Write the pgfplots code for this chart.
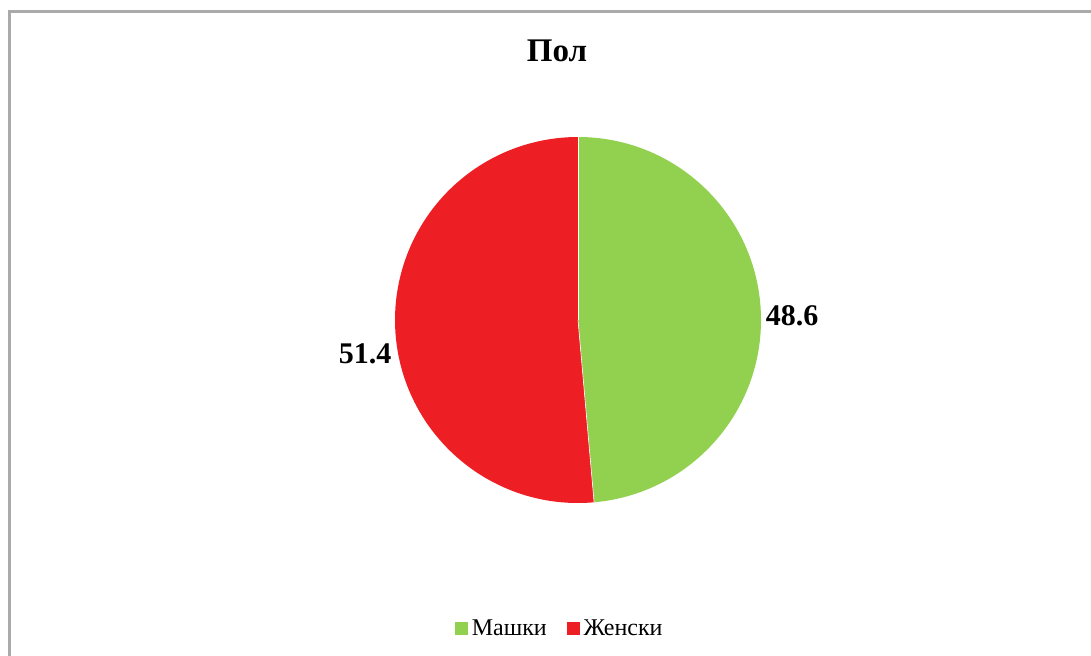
\documentclass[border=0pt]{standalone}
\usepackage{pgfplots}
\usepackage{pgfplotstable}
\pgfplotsset{compat=1.18}
\usepackage{fontspec}
\setmainfont{Liberation Serif}
\definecolor{masko}{RGB}{146,208,80}
\definecolor{zensko}{RGB}{237,30,36}
\definecolor{frame}{RGB}{170,170,170}

% share in percent
\pgfplotstableread{
idx value
0 48.6
1 51.4
}\poldata

\begin{document}
\begin{tikzpicture}
\useasboundingbox (0,0) rectangle (545.5pt,327.5pt);
\begin{axis}[
  at={(0,0)}, anchor=south west,
  width=545.5pt, height=327.5pt, scale only axis,
  xmin=0, xmax=1091, ymin=0, ymax=655,
  hide axis, clip=false,
  legend style={at={(axis description cs:0.514,0.040)}, anchor=center, draw=none, fill=none,
    font=\fontsize{12}{13}\selectfont, legend columns=2,
    /tikz/every even column/.append style={column sep=8pt}},
  legend image code/.code={\fill[#1] (0pt,-3pt) rectangle (6pt,3pt);},
]
\addlegendimage{masko, fill=masko}
\addlegendentry{Машки}
\addlegendimage{zensko, fill=zensko}
\addlegendentry{Женски}

\pgfplotstablegetelem{0}{value}\of\poldata
\pgfmathsetmacro{\va}{\pgfplotsretval}
\pgfplotstablegetelem{1}{value}\of\poldata
\pgfmathsetmacro{\vb}{\pgfplotsretval}
\pgfmathsetmacro{\enda}{90-3.6*\va}
\pgfmathsetmacro{\endb}{\enda-3.6*\vb}

\fill[masko] (axis cs:578,335) -- ++(90:91.5pt) arc[start angle=90, end angle=\enda, radius=91.5pt] -- cycle;
\fill[zensko] (axis cs:578,335) -- ++(\enda:91.5pt) arc[start angle=\enda, end angle=\endb, radius=91.5pt] -- cycle;
\draw[white, line width=0.3pt] (axis cs:578,335) -- ++(90:91.5pt);
\draw[white, line width=0.3pt] (axis cs:578,335) -- ++(\enda:91.5pt);

\node[font=\bfseries\fontsize{15}{17}\selectfont] at (axis cs:792,339) {\va};
\node[font=\bfseries\fontsize{15}{17}\selectfont] at (axis cs:365,301) {\vb};
\node[font=\bfseries\fontsize{16.5}{20}\selectfont] at (axis cs:557,604) {Пол};

\draw[frame, line width=1.2pt] (axis cs:9.5,-5) -- (axis cs:9.5,643.5) -- (axis cs:1095,643.5);
\end{axis}
\end{tikzpicture}
\end{document}
